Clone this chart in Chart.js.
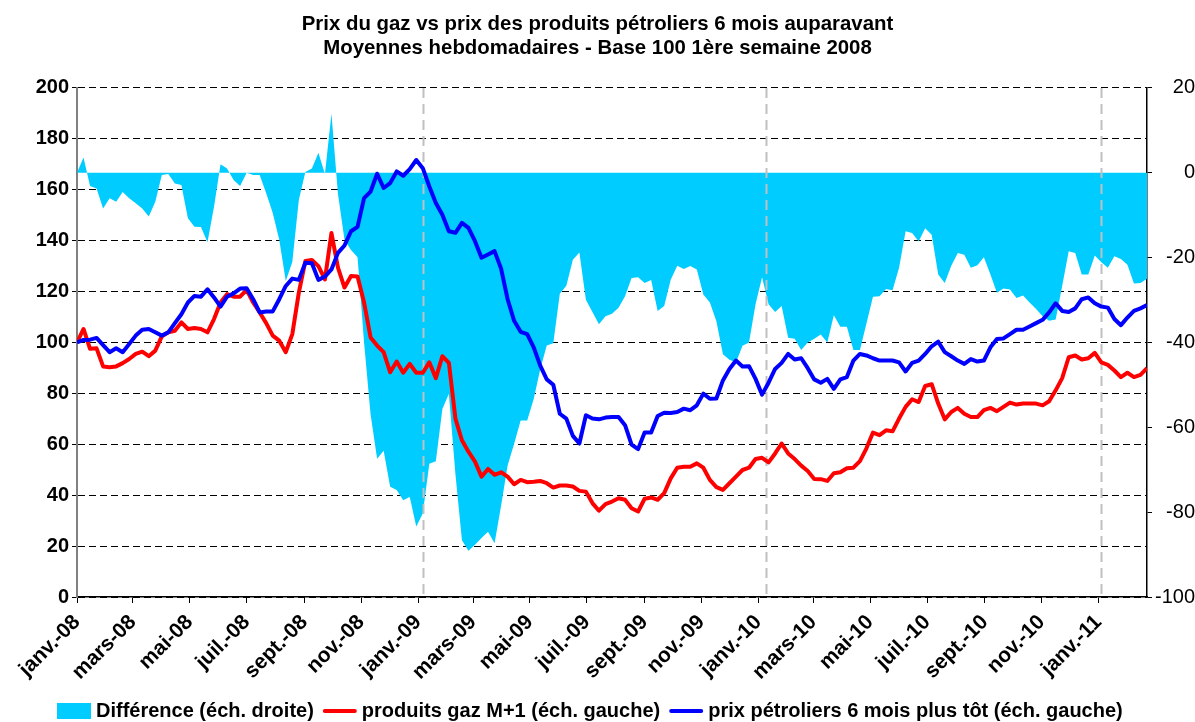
<!DOCTYPE html>
<html>
<head>
<meta charset="utf-8">
<script src="https://cdn.jsdelivr.net/npm/chart.js@4.4.0/dist/chart.umd.min.js"></script>
<style>
html,body{margin:0;padding:0;background:#fff;}
#wrap{width:1195px;height:722px;}
</style>
</head>
<body>
<div id="wrap"><canvas id="c" width="1195" height="722"></canvas></div>
<script>
// ---------- DATA ----------
const titleLines = [
  'Prix du gaz vs prix des produits pétroliers 6 mois auparavant',
  'Moyennes hebdomadaires - Base 100 1ère semaine 2008'
];
const seriesLabels = [
  'Différence (éch. droite)',
  'produits gaz M+1 (éch. gauche)',
  'prix pétroliers 6 mois plus tôt (éch. gauche)'
];
// x-axis tick labels (every 2 months) and their dates
const tickLabels = ['janv.-08','mars-08','mai-08','juil.-08','sept.-08','nov.-08',
  'janv.-09','mars-09','mai-09','juil.-09','sept.-09','nov.-09',
  'janv.-10','mars-10','mai-10','juil.-10','sept.-10','nov.-10','janv.-11'];
const tickDates = ['2008-01-01','2008-03-01','2008-05-01','2008-07-01','2008-09-01','2008-11-01',
  '2009-01-01','2009-03-01','2009-05-01','2009-07-01','2009-09-01','2009-11-01',
  '2010-01-01','2010-03-01','2010-05-01','2010-07-01','2010-09-01','2010-11-01','2011-01-01'];
const firstWeek = '2008-01-01';
const yearMarkDates = ['2009-01-06','2010-01-09','2011-01-04'];

// weekly values, base 100 first week 2008 (left axis)
const gazM1 = [
100,105.3,97.5,97.7,90.6,90.3,90.6,91.9,93.5,95.5,
96.4,94.6,96.8,102.4,104,104.6,107.9,105.3,105.7,105.3,
104,109.2,115.7,119,118,118,120.7,115.7,111.8,107.6,
102.7,100.7,96.2,103.3,119.6,132,132.4,130,124.8,143,
129.4,121.6,126.1,125.9,115.7,102,98.8,96.2,88.3,92.5,
88.1,91.6,88.1,88.1,92.2,86,94.6,92,70.1,61.6,
57.1,53.2,47.3,50.3,48,49,47.3,44.3,46,45.1,
45.3,45.6,44.7,43,43.8,43.8,43.4,41.7,41.4,36.9,
33.9,36.5,37.5,38.8,38.2,34.9,33.6,38.6,39.1,38.2,
40.8,46.6,50.8,51.2,51.2,52.5,50.8,46,43.2,42.1,
44.7,47.3,49.9,50.8,54.2,54.7,52.9,56.4,60.3,56.4,
54.2,51.6,49.5,46.4,46.3,45.6,48.6,49,50.6,50.8,
53.4,58.4,64.6,63.6,65.5,65.1,70.1,74.7,77.7,76.6,
82.9,83.6,76,69.8,72.7,74.3,72,70.7,70.7,73.4,
74.3,73,74.7,76.4,75.6,76,76,76,75.3,76.9,
81.2,86,94.2,94.9,93.3,93.8,95.9,92.2,91.2,89,
86.4,88.1,86.4,87.3,89.9
];
const petrole6m = [
100,101,101.1,101.8,99,96.2,97.7,96.2,99.4,102.7,
105,105.3,104,102.7,104,107.6,111.1,115.7,118.3,118,
120.9,117.7,114.1,118,119.3,121.2,121.3,117,111.8,112.2,
112.2,117,122.2,125.1,124.6,131.3,131.1,124.6,125.9,128.7,
135.2,138.1,143.7,145.4,156.7,159.3,166.3,160.7,162.6,167.2,
165.5,168.1,171.7,168.5,161.3,154.8,150.2,143.7,143.1,147,
145,139.8,133.3,134.6,135.9,129,117,108.5,104.2,103.3,
98.1,90.9,85.5,83.4,72,70.1,63.3,60.3,71.4,70.1,
69.8,70.5,70.7,70.7,67.5,59.9,58.1,64.6,64.6,71.1,
72.4,72.3,72.7,74,73.4,75.3,79.9,77.9,78,85.1,
89.6,92.9,90.6,90.7,85.7,79.5,84.2,89.6,92,95.5,
93.3,93.8,89.9,85.5,84.2,85.7,81.8,85.5,86.4,92.9,
95.5,94.9,93.8,92.9,92.9,92.9,92.2,88.6,92,92.9,
95.5,98.5,100.3,96.2,94.6,92.9,91.6,93.5,92.5,92.9,
98.1,101.4,101.6,103.3,105,105,106.3,107.6,108.9,111.8,
115.4,112.4,112,113.4,117,117.7,115.4,114.1,113.7,109.2,
106.8,109.8,112.4,113.4,114.7
];
// right axis
const difference = [
0,3.6,-3.1,-3.7,-8.4,-6,-6.8,-4.5,-6,-7.2,
-8.4,-10.3,-6.8,-0.5,-0.3,-2.5,-2.9,-10.7,-12.7,-12.8,
-16.4,-8,2,1,-1.7,-3.1,0,-0.5,-0.5,-4.8,
-9.5,-15.8,-25.5,-21,-6.4,0.2,1,4.7,-0.3,13.9,
-5,-15.8,-18.2,-19.9,-40,-57,-67.4,-65.5,-74,-74.8,
-77.2,-76.4,-83.4,-80.3,-68.6,-68,-55.7,-52.1,-71,-86.6,
-89.1,-87.7,-86.1,-84.6,-87.3,-78.5,-69,-63.9,-58.4,-58.4,
-53.3,-46.3,-40.7,-40.2,-28.5,-26.6,-20.5,-18.8,-29.9,-32.8,
-35.7,-33.8,-33.2,-31.8,-29.1,-24.8,-24.6,-26,-25.3,-32.6,
-31.4,-25.2,-21.9,-22.7,-22,-22.8,-28.7,-30.6,-35,-42.8,
-44.1,-44.7,-40.8,-40,-31,-24.6,-31,-32.8,-31.4,-38.9,
-39.1,-41.8,-40,-39.1,-38.1,-40,-33.6,-36.3,-36.3,-41.8,
-41.8,-35.5,-29.2,-29.1,-27.4,-27.7,-22.4,-13.8,-14.2,-16.2,
-13.1,-14.6,-24,-26,-21.9,-18.9,-19.3,-22.4,-21.8,-19.9,
-24,-28.3,-27.3,-27.5,-29.5,-28.9,-30.6,-32.1,-33.8,-34.9,
-34.6,-26.7,-18.5,-18.9,-24,-24,-19.5,-21.1,-22.4,-19.7,
-20.3,-21.7,-26.1,-26,-25
];

// ---------- helpers ----------
const DAY = 864e5;
const t0 = Date.parse(firstWeek);
const dayOf = s => Math.round((Date.parse(s) - t0) / DAY);
const weekDays = gazM1.map((_, i) => i * 7);
const toPts = arr => arr.map((v, i) => ({x: weekDays[i], y: v}));
const tickDays = tickDates.map(dayOf);
const yearMarkDays = yearMarkDates.map(dayOf);

const FONT = "'Liberation Sans', Arial, sans-serif";
Chart.defaults.font.family = FONT;
Chart.defaults.color = '#000';

const COLORS = {diff: '#00CCFF', gaz: '#FF0000', pet: '#0000FF'};

const yearMarks = {
  id: 'yearMarks',
  afterDatasetDraw(chart, args) {
    if (args.index !== 0) return;
    const {ctx, chartArea, scales} = chart;
    ctx.save();
    ctx.strokeStyle = '#C0C0C0';
    ctx.lineWidth = 2;
    ctx.setLineDash([10, 6]);
    yearMarkDays.forEach(d => {
      const px = Math.round(scales.x.getPixelForValue(d)) + 0.5;
      ctx.beginPath();
      ctx.moveTo(px, chartArea.top);
      ctx.lineTo(px, chartArea.bottom);
      ctx.stroke();
    });
    ctx.restore();
  }
};

const customLegend = {
  id: 'customLegend',
  afterDraw(chart) {
    const ctx = chart.ctx;
    ctx.save();
    ctx.font = 'bold 20px ' + FONT;
    ctx.textBaseline = 'middle';
    ctx.textAlign = 'left';
    const y = 711, mw = 34, gapT = 5, gapI = 9;
    let x = chart.chartArea.left - 20;
    chart.data.datasets.forEach((ds, i) => {
      if (i === 0) {
        ctx.fillStyle = ds.backgroundColor;
        ctx.fillRect(x, y - 8, mw, 16);
      } else {
        ctx.strokeStyle = ds.borderColor;
        ctx.lineWidth = 4;
        ctx.lineCap = 'round';
        ctx.beginPath();
        ctx.moveTo(x + 2, y);
        ctx.lineTo(x + mw - 2, y);
        ctx.stroke();
      }
      x += mw + gapT;
      ctx.fillStyle = '#000';
      ctx.fillText(ds.label, x, y);
      x += ctx.measureText(ds.label).width + gapI;
    });
    ctx.restore();
  }
};

new Chart(document.getElementById('c'), {
  type: 'line',
  data: {
    datasets: [
      {label: seriesLabels[0], data: toPts(difference), yAxisID: 'y1', fill: 'origin',
       backgroundColor: COLORS.diff, borderColor: 'rgba(0,0,0,0)', borderWidth: 0,
       pointRadius: 0, tension: 0, order: 2},
      {label: seriesLabels[1], data: toPts(gazM1), yAxisID: 'y', fill: false,
       borderColor: COLORS.gaz, borderWidth: 4, pointRadius: 0, tension: 0, order: 1,
       borderJoinStyle: 'round'},
      {label: seriesLabels[2], data: toPts(petrole6m), yAxisID: 'y', fill: false,
       borderColor: COLORS.pet, borderWidth: 4, pointRadius: 0, tension: 0, order: 0,
       borderJoinStyle: 'round'}
    ]
  },
  options: {
    responsive: false,
    animation: false,
    devicePixelRatio: 1,
    layout: {padding: 0},
    plugins: {
      legend: {display: false},
      tooltip: {enabled: false},
      title: {
        display: true, text: titleLines, color: '#000',
        font: {size: 20.4, weight: 'bold', lineHeight: 1.2},
        padding: {top: 12, bottom: 27}
      }
    },
    scales: {
      x: {
        type: 'linear',
        min: 0,
        max: weekDays[weekDays.length - 1],
        afterBuildTicks: s => { s.ticks = tickDays.map(v => ({value: v})); },
        afterFit: s => { s.height = 125; },
        ticks: {
          autoSkip: false, maxRotation: 45, minRotation: 45, padding: 7,
          font: {size: 21, weight: 'bold'}, color: '#000',
          callback: (v, i) => tickLabels[i]
        },
        grid: {drawOnChartArea: false, drawTicks: true, tickLength: 6, color: '#000', lineWidth: 1},
        border: {display: true, color: '#000', width: 1.5}
      },
      y: {
        position: 'left',
        min: 0, max: 200,
        afterFit: s => { s.width = 77; },
        ticks: {stepSize: 20, padding: 3, font: {size: 20, weight: 'bold'}, color: '#000'},
        grid: {color: '#000', lineWidth: 1, tickLength: 5, drawTicks: true},
        border: {display: true, color: '#808080', width: 2, dash: [7, 4]}
      },
      y1: {
        position: 'right',
        min: -100, max: 20,
        afterFit: s => { s.width = 48; },
        ticks: {stepSize: 20, padding: 2, crossAlign: 'far', font: {size: 20}, color: '#000'},
        grid: {drawOnChartArea: false, color: '#000', tickLength: 5},
        border: {display: true, color: '#000', width: 1.5}
      }
    }
  },
  plugins: [yearMarks, customLegend]
});
</script>
</body>
</html>
